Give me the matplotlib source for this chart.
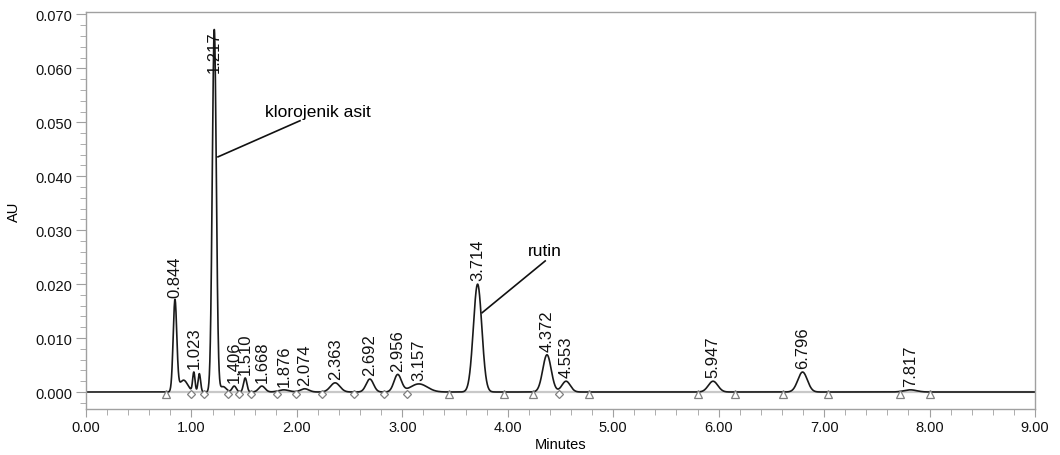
#!/usr/bin/env python3

import numpy as np
import matplotlib
matplotlib.use("Agg")
import matplotlib.pyplot as plt
from matplotlib.ticker import MultipleLocator

# labelled peaks: retention time (min), apex height (AU), peak sigma (min)
peak_times = [0.844, 1.023, 1.217, 1.406, 1.510, 1.668, 1.876, 2.074, 2.363,
              2.692, 2.956, 3.157, 3.714, 4.372, 4.553, 5.947, 6.796, 7.817]
peak_heights = [0.0169, 0.0036, 0.0672, 0.0011, 0.0026, 0.0011, 0.0004, 0.0006,
                0.0017, 0.0024, 0.0032, 0.0015, 0.0200, 0.0069, 0.0020, 0.0020,
                0.0037, 0.0004]
peak_widths = [0.017, 0.011, 0.019, 0.02, 0.016, 0.03, 0.05, 0.04, 0.045,
               0.035, 0.035, 0.08, 0.040, 0.040, 0.040, 0.045, 0.045, 0.06]

# unlabelled shoulders / tails
shoulder_times = [0.925, 1.075, 1.30]
shoulder_heights = [0.0022, 0.0034, 0.0010]
shoulder_widths = [0.04, 0.012, 0.03]

# integration marks
start_end_marks = [0.756, 3.447, 3.96, 4.235, 4.766, 5.80, 6.158, 6.606, 7.037, 7.716, 8.0]
valley_marks = [0.996, 1.12, 1.35, 1.452, 1.562, 1.809, 1.992, 2.242, 2.543, 2.827, 3.049, 4.49]

x_ticks = [0, 1, 2, 3, 4, 5, 6, 7, 8, 9]
y_ticks = [0.0, 0.01, 0.02, 0.03, 0.04, 0.05, 0.06, 0.07]


def gauss(t, mu, h, s):
    return h * np.exp(-0.5 * ((t - mu) / s) ** 2)


def trace(t):
    y = np.zeros_like(t)
    for mu, h, s in zip(peak_times, peak_heights, peak_widths):
        y += gauss(t, mu, h, s)
    for mu, h, s in zip(shoulder_times, shoulder_heights, shoulder_widths):
        y += gauss(t, mu, h, s)
    return y


plt.rcParams["font.family"] = ["Liberation Sans", "DejaVu Sans"]

fig = plt.figure(figsize=(10.6, 4.56), dpi=100)
ax = fig.add_axes([0.0811, 0.1009, 0.8953, 0.8706])

t = np.linspace(0, 9, 6000)
ax.plot([0.756, 9.0], [0, 0], color="#c8c8c8", lw=1.6, zorder=1)
ax.plot(t, trace(t), color="#1a1a1a", lw=1.2, zorder=2)

mark_y = -0.00045
ax.plot(start_end_marks, [mark_y] * len(start_end_marks), ls="none", marker="^",
        ms=5.5, mfc="white", mec="#808080", mew=0.9, zorder=3)
ax.plot(valley_marks, [mark_y] * len(valley_marks), ls="none", marker="D",
        ms=4, mfc="white", mec="#808080", mew=0.9, zorder=3)

for mu, h in zip(peak_times, peak_heights):
    ax.annotate(f"{mu:.3f}", xy=(mu, min(h, 0.0585)), xytext=(0, 3),
                textcoords="offset points", rotation=90, ha="center",
                va="bottom", fontsize=12, color="#111111")

ax.plot([2.03, 1.252], [0.0503, 0.0436], color="#111111", lw=1.2)
ax.text(1.70, 0.0521, "klorojenik asit", fontsize=12.5, va="center", ha="left")
ax.plot([4.355, 3.757], [0.0243, 0.0147], color="#111111", lw=1.2)
ax.text(4.194, 0.0262, "rutin", fontsize=12.5, va="center", ha="left")

ax.set_xlim(0, 9)
ax.set_ylim(-0.00315, 0.07046)
ax.set_xticks(x_ticks)
ax.set_xticklabels([f"{v:.2f}" for v in x_ticks])
ax.set_yticks(y_ticks)
ax.set_yticklabels([f"{v:.3f}" for v in y_ticks])
ax.xaxis.set_minor_locator(MultipleLocator(0.2))
ax.yaxis.set_minor_locator(MultipleLocator(0.002))

for s in ax.spines.values():
    s.set_color("#a0a0a0")
    s.set_linewidth(1.0)
ax.tick_params(which="major", direction="out", length=7, color="#a0a0a0",
               labelsize=10.5, labelcolor="#111111", pad=3)
ax.tick_params(axis="x", which="major", length=6, pad=2)
ax.tick_params(which="minor", direction="out", length=4, color="#a0a0a0")

ax.set_xlabel("Minutes", fontsize=10.5, labelpad=2)
ax.set_ylabel("AU", fontsize=10.5, labelpad=10)

fig.savefig("out.png", dpi=100)
